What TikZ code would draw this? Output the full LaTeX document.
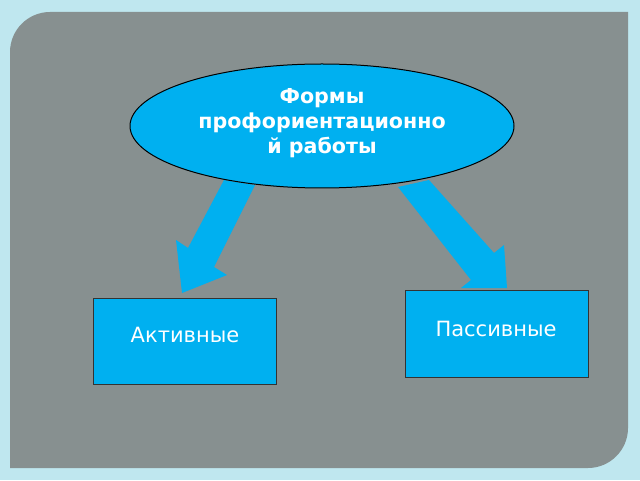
\documentclass[tikz,border=0pt]{standalone}
\usepackage{fontspec}
\setmainfont{DejaVu Sans}
\usetikzlibrary{shapes.geometric}
\definecolor{bgc}{HTML}{BFE7EF}
\definecolor{panel}{HTML}{879090}
\definecolor{cyanb}{HTML}{00B0F0}
\tikzset{
  box/.style={draw=black!80,fill=cyanb,line width=0.5pt},
  boxtext/.style={text=white,font=\fontsize{10.5}{12}\selectfont},
  blockarrow/.style={fill=cyanb}
}
\begin{document}
\begin{tikzpicture}[x=0.5pt,y=-0.5pt]
\fill[bgc] (0,0) rectangle (640,480);
\fill[panel] (10,52) .. controls (10,30) and (28,12) .. (50,12) -- (628,12) -- (628,428) .. controls (628,450) and (610,468) .. (588,468) -- (10,468) -- cycle;
\fill[blockarrow] (224,180) -- (255,185) -- (214,267) -- (227,275) -- (182,293) -- (176,240) -- (188,248) -- cycle;
\fill[blockarrow] (398,187) -- (429,180) -- (494,253) -- (504,245) -- (507,288) -- (461,288) -- (471,280) -- cycle;
\node[ellipse,draw=black,fill=cyanb,line width=0.5pt,minimum width=192pt,minimum height=62pt,inner sep=0pt] (forms) at (322,126) {};
\node[text=white,font=\bfseries\fontsize{10.3}{12.5}\selectfont,align=center] (title) at (322,123) {Формы\\профориентационно\\й работы};
\node[box,minimum width=91.5pt,minimum height=43pt,inner sep=0pt,anchor=north west] (act) at (93,298) {};
\node[boxtext] (actt) at (185,335) {Активные};
\node[box,minimum width=91.5pt,minimum height=43.5pt,inner sep=0pt,anchor=north west] (pas) at (405,290) {};
\node[boxtext] (past) at (496,329) {Пассивные};
\end{tikzpicture}
\end{document}
